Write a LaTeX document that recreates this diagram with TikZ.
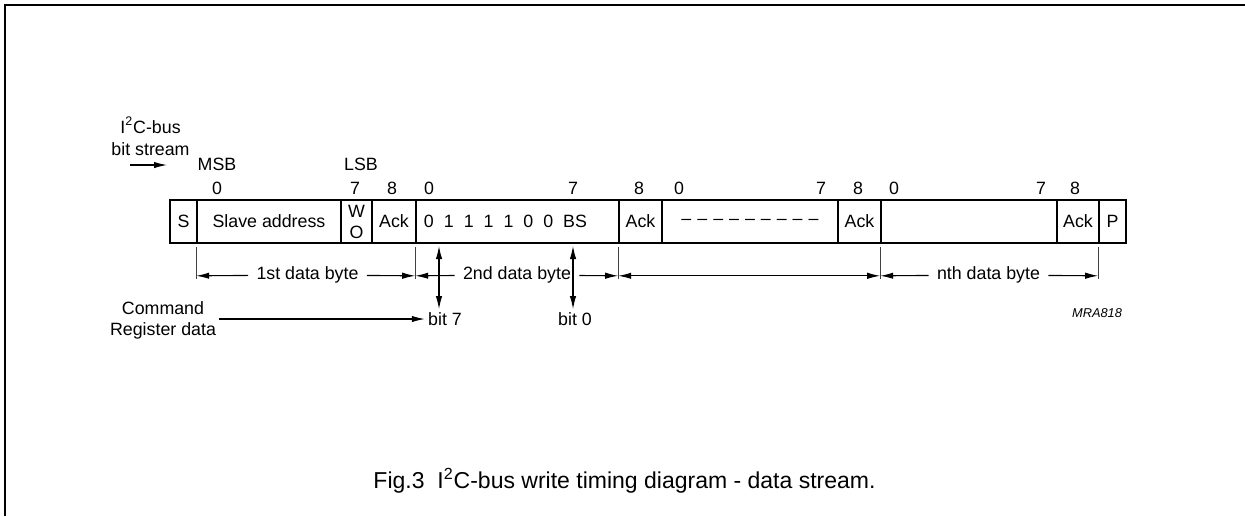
\documentclass[tikz,border=0pt]{standalone}
\usepackage{fontspec}
\setmainfont{Liberation Sans}
\usetikzlibrary{arrows.meta}
\newcommand{\labelsize}{\fontsize{8.9pt}{10.5pt}\selectfont}
\tikzstyle{every node}=[font=\labelsize, inner sep=1.5pt]
\tikzstyle{field}=[draw=black, line width=0.8pt, minimum height=21.5pt, inner sep=0pt, align=center]
\tikzstyle{frame}=[line width=1pt]
\tikzstyle{tick}=[line width=0.4pt, black!75]
\tikzstyle{dim}=[line width=0.55pt, -{Latex[length=6.5pt,width=3.2pt]}]
\tikzstyle{both}=[line width=0.55pt, {Latex[length=6.5pt,width=3.2pt]}-{Latex[length=6.5pt,width=3.2pt]}]
\tikzstyle{bytelabel}=[inner xsep=4pt]

\begin{document}
\begin{tikzpicture}[x=0.5pt, y=-0.5pt]
  \useasboundingbox (0,0) rectangle (1245,516);
  \draw[frame] (5,516) -- (5,5) -- (1245,5);

  \node[align=center, font=\fontsize{8.9pt}{11pt}\selectfont] (bus) at (150.5,136) {I\textsuperscript{2}C-bus\\bit stream};
  \coordinate (in1) at (130,165);
  \coordinate (in2) at (167,165);
  \draw[dim] (in1) -- (in2);

  \node (msb) at (217,164) {MSB};
  \node (lsb) at (361,164) {LSB};
  \foreach \xpos/\bitno in {217/0,355/7,392/8,429/0,573/7,639/8,679/0,821/7,858/8,894/0,1041/7,1075/8}
    \node (n\xpos) at (\xpos,188) {\bitno};

  \node[field, minimum width=13.5pt] (S) at (183.5,221.5) {S};
  \node[field, minimum width=72pt] (slave) at (269,221.5) {Slave address};
  \node[field, minimum width=15.5pt] (wo) at (356.5,221.5) {W\\O};
  \node[field, minimum width=22pt] (ack1) at (394,221.5) {Ack};
  \node[field, minimum width=101.5pt] (byte2) at (517.5,221.5) {};
  \node[field, minimum width=21.5pt] (ack2) at (640.5,221.5) {Ack};
  \node[field, minimum width=88pt] (more) at (750,221.5) {\textendash\hspace{3pt}\textendash\hspace{3pt}\textendash\hspace{3pt}\textendash\hspace{3pt}\textendash\hspace{3pt}\textendash\hspace{3pt}\textendash\hspace{3pt}\textendash\hspace{3pt}\textendash};
  \node[field, minimum width=21.5pt] (ack3) at (859.5,221.5) {Ack};
  \node[field, minimum width=88pt] (byten) at (969,221.5) {};
  \node[field, minimum width=21pt] (ack4) at (1078,221.5) {Ack};
  \node[field, minimum width=13.5pt] (P) at (1112.5,221.5) {P};

  \foreach \bitno [count=\i] in {0,1,1,1,1,0,0}
    \node (d\i) at ({409+19.9*\i},221.5) {\bitno};
  \node (bs) at (575,221.5) {BS};

  \foreach \f/\k in {slave/1,byte2/2,ack2/3,byten/4,P/5}
    \draw[tick] ([yshift=-1.5pt]\f.south west) -- ++(0,29) coordinate (e\k) -- ++(0,3);

  \node[bytelabel] (first) at (307.5,275) {1st data byte};
  \draw[dim] (first) -- (e1);
  \draw[dim] (first) -- (e2);
  \node[bytelabel] (second) at (517,275) {2nd data byte};
  \draw[dim] (second) -- (e2);
  \draw[dim] (second) -- (e3);
  \draw[both] (e3) -- (e4);
  \node[bytelabel] (nth) at (988.5,275) {nth data byte};
  \draw[dim] (nth) -- (e4);
  \draw[dim] (nth) -- (e5);

  \node (b7) at (445,319) {bit 7};
  \node (b0) at (575,319) {bit 0};
  \coordinate (a7) at (439,246);
  \coordinate (a0) at (573,246);
  \draw[both] (a7) -- (a7 |- b7.north);
  \draw[both] (a0) -- (a0 |- b0.north);

  \node[align=center] (cmd) at (163,320.5) {Command\\Register data};
  \draw[dim] (cmd.east |- b7.west) -- (b7.west);

  \node[font=\fontsize{6.4pt}{7pt}\selectfont\itshape] (code) at (1097,313) {MRA818};
  \node[font=\fontsize{11.5pt}{13pt}\selectfont] (caption) at (624.5,481) {Fig.3\ \ I\textsuperscript{2}C-bus write timing diagram - data stream.};
\end{tikzpicture}
\end{document}
